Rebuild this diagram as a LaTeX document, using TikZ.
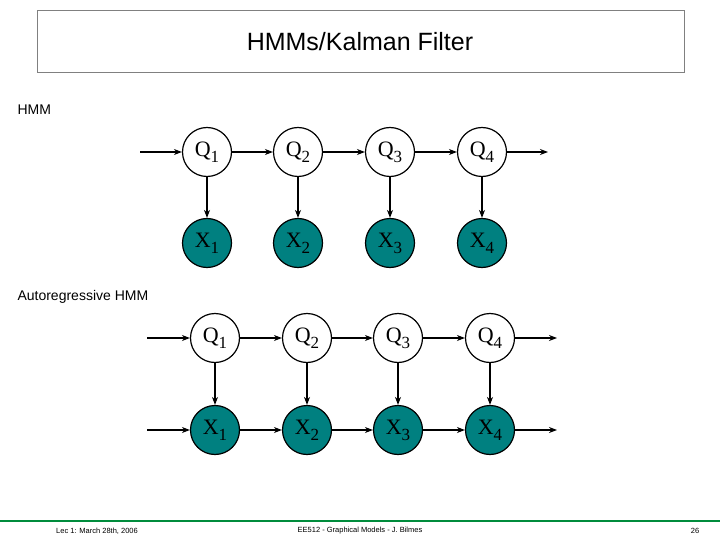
\documentclass[tikz,border=0pt]{standalone}
\usepackage{fontspec}
\setmainfont{Liberation Sans}
\newfontfamily\tms{Liberation Serif}
\usetikzlibrary{arrows.meta}
\definecolor{tealx}{RGB}{0,128,128}
\definecolor{footg}{RGB}{0,140,60}
\newcommand{\sbx}[1]{\raisebox{-0.6ex}{\fontsize{17}{19}\selectfont #1}}
\begin{document}
\begin{tikzpicture}[x=1pt,y=-1pt,
  hid/.style={circle,draw,line width=1.2pt,fill=white,minimum size=49pt,inner sep=0pt,font=\tms\fontsize{22}{24}\selectfont},
  obs/.style={hid,fill=tealx},
  arr/.style={line width=1.5pt,-{Stealth[length=8pt,width=6pt]}},
  lab/.style={anchor=west,font=\fontsize{14}{16}\selectfont},
  foot/.style={font=\fontsize{7.5}{9}\selectfont}]
\useasboundingbox (0,0) rectangle (720,540);
\node[draw=gray,minimum width=647pt,minimum height=62pt,anchor=north west,inner sep=0pt] (title) at (37,10) {};
\node[font=\fontsize{25}{29}\selectfont] (tt) at (360,42) {HMMs/Kalman Filter};
\node[lab] (l1) at (14,110) {HMM};
\node[lab] (l2) at (14,297) {Autoregressive HMM};
% HMM
\foreach \i/\x in {1/207,2/298,3/390,4/482}{
  \node[hid] (q\i) at (\x,152) {Q\sbx{\i}};
  \node[obs] (x\i) at (\x,243) {X\sbx{\i}};
  \draw[arr] (q\i) -- (x\i);
}
\coordinate (qin) at (140,152);
\coordinate (qout) at (548,152);
\draw[arr] (qin) -- (q1);
\draw[arr] (q1) -- (q2);
\draw[arr] (q2) -- (q3);
\draw[arr] (q3) -- (q4);
\draw[arr] (q4) -- (qout);
% AR-HMM
\foreach \i/\x in {1/215,2/307,3/398,4/490}{
  \node[hid] (r\i) at (\x,338) {Q\sbx{\i}};
  \node[obs] (y\i) at (\x,430) {X\sbx{\i}};
  \draw[arr] (r\i) -- (y\i);
}
\coordinate (rin) at (147,338);
\coordinate (rout) at (557,338);
\coordinate (yin) at (147,430);
\coordinate (yout) at (557,430);
\draw[arr] (rin) -- (r1);
\draw[arr] (r1) -- (r2);
\draw[arr] (r2) -- (r3);
\draw[arr] (r3) -- (r4);
\draw[arr] (r4) -- (rout);
\draw[arr] (yin) -- (y1);
\draw[arr] (y1) -- (y2);
\draw[arr] (y2) -- (y3);
\draw[arr] (y3) -- (y4);
\draw[arr] (y4) -- (yout);
% footer
\draw[footg,line width=1.2pt] (0,521) -- (720,521);
\node[foot] (f1) at (97,531) {Lec 1: March 28th, 2006};
\node[foot] (f2) at (360,531) {EE512 - Graphical Models - J. Bilmes};
\node[foot] (f3) at (695,531) {26};
\end{tikzpicture}
\end{document}
